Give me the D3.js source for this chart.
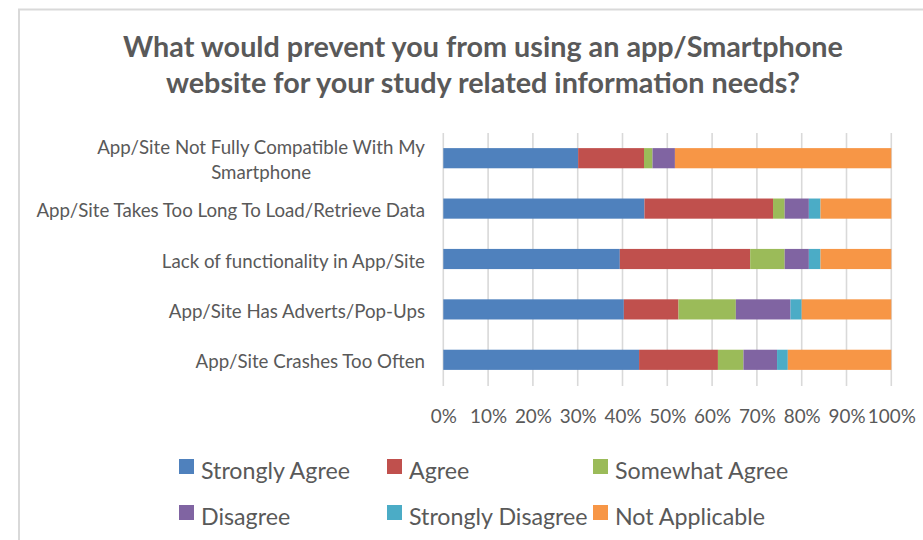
<!DOCTYPE html>
<html><head><meta charset="utf-8">
<script src="https://cdn.jsdelivr.net/npm/d3@7"></script>
<style>body{margin:0;background:#fff}svg{display:block}text{font-family:Lato,"Open Sans",sans-serif;fill:#595959}</style>
</head><body>
<svg id="c" width="923" height="540"></svg>
<script>
const titleLines = ["What would prevent you from using an app/Smartphone", "website for your study related information needs?"];
const categories = [
  "App/Site Not Fully Compatible With My Smartphone",
  "App/Site Takes Too Long To Load/Retrieve Data",
  "Lack of functionality in App/Site",
  "App/Site Has Adverts/Pop-Ups",
  "App/Site Crashes Too Often"
];
const seriesNames = ["Strongly Agree","Agree","Somewhat Agree","Disagree","Strongly Disagree","Not Applicable"];
const stronglyAgree    = [30.1, 44.9, 39.4, 40.3, 43.7];
const agree            = [14.7, 28.7, 29.1, 12.2, 17.6];
const somewhatAgree    = [1.9, 2.6, 7.7, 12.8, 5.7];
const disagree         = [5.0, 5.4, 5.4, 12.2, 7.5];
const stronglyDisagree = [0.0, 2.6, 2.6, 2.5, 2.4];
const notApplicable    = [48.3, 15.8, 15.8, 20.0, 23.1];
const tickValues = [0,10,20,30,40,50,60,70,80,90,100];
const colors = ["#4F81BD","#C0504D","#9BBB59","#8064A2","#4BACC6","#F79646"];

const seriesValues = [stronglyAgree, agree, somewhatAgree, disagree, stronglyDisagree, notApplicable];
const rows = categories.map((c,i)=>{const r={cat:c}; seriesNames.forEach((s,j)=>r[s]=seriesValues[j][i]); return r;});

const svg = d3.select("#c");
function fit(sel, target){ sel.style("font-size","20px"); const w=sel.node().getComputedTextLength(); sel.style("font-size",(20*target/w)+"px"); return 20*target/w; }

// chart border
svg.append("rect").attr("x",19).attr("y",9.5).attr("width",960).attr("height",600)
  .attr("fill","none").attr("stroke","#d9d9d9").attr("stroke-width",2);

// title
const t1 = svg.append("text").attr("x",483).attr("y",57).attr("text-anchor","middle").style("font-weight","bold").text(titleLines[0]);
const ts = fit(t1, 720);
svg.append("text").attr("x",483).attr("y",93).attr("text-anchor","middle").style("font-weight","bold").style("font-size",ts+"px").text(titleLines[1]);

const x = d3.scaleLinear().domain([0,100]).range([443.3,891.3]);
const y = d3.scaleBand().domain(categories).range([133,385]).paddingInner(0.6).paddingOuter(0.3);

// gridlines
svg.append("g").selectAll("line").data(tickValues).join("line")
  .attr("x1",d=>x(d)).attr("x2",d=>x(d)).attr("y1",133).attr("y2",386)
  .attr("stroke","#d9d9d9").attr("stroke-width",1.6);

// bars
const stack = d3.stack().keys(seriesNames)(rows);
svg.append("g").selectAll("g").data(stack).join("g").attr("fill",(d,i)=>colors[i])
  .selectAll("rect").data(d=>d).join("rect")
  .attr("x",d=>x(d[0])).attr("width",d=>Math.max(0,x(d[1])-x(d[0])))
  .attr("y",d=>y(d.data.cat)).attr("height",y.bandwidth());

// x axis labels
const xa = svg.append("g").attr("transform","translate(0,386)").call(d3.axisBottom(x).tickValues(tickValues).tickFormat(d=>d+"%").tickSize(0).tickPadding(0));
xa.select(".domain").remove();
const tmp = svg.append("text").text("10%");
const axSize = fit(tmp, 37); tmp.remove();
xa.selectAll("text").attr("y",0).attr("dy",null).attr("font-family",null).attr("fill",null)
  .style("font-size",axSize+"px").attr("dominant-baseline","central").attr("transform","translate(0,29)");

// category labels
const tmp2 = svg.append("text").text(categories[1]);
const catSize = fit(tmp2, 389); tmp2.remove();
const maxW = 395;
categories.forEach(c=>{
  const words = c.split(" "); const lines=[]; let line=[];
  const meas = svg.append("text").style("font-size",catSize+"px");
  words.forEach(w=>{ line.push(w); meas.text(line.join(" ")); if(meas.node().getComputedTextLength()>maxW && line.length>1){ line.pop(); lines.push(line.join(" ")); line=[w]; } });
  lines.push(line.join(" "));
  let bw=0; lines.forEach(l=>{meas.text(l); bw=Math.max(bw,meas.node().getComputedTextLength());});
  meas.remove();
  const cy = y(c)+y.bandwidth()/2+1.5; const lh=25;
  const tx = svg.append("text").style("font-size",catSize+"px").attr("text-anchor","middle").attr("dominant-baseline","central");
  lines.forEach((l,i)=>tx.append("tspan").attr("x",425-bw/2).attr("y",cy+(i-(lines.length-1)/2)*lh).text(l));
});

// legend
const legendX = [179,387,593];
const legendY = [466.5,512.5];
const tmp3 = svg.append("text").text(seriesNames[0]);
const legSize = fit(tmp3, 149); tmp3.remove();
const lg = svg.append("g").selectAll("g").data(seriesNames).join("g")
  .attr("transform",(d,i)=>`translate(${legendX[i%3]},${legendY[Math.floor(i/3)]})`);
lg.append("rect").attr("x",0).attr("y",-7.5).attr("width",15).attr("height",15).attr("fill",(d,i)=>colors[i]);
lg.append("text").attr("x",22).attr("y",3).attr("dominant-baseline","central").style("font-size",legSize+"px").text(d=>d);
</script>
</body></html>
